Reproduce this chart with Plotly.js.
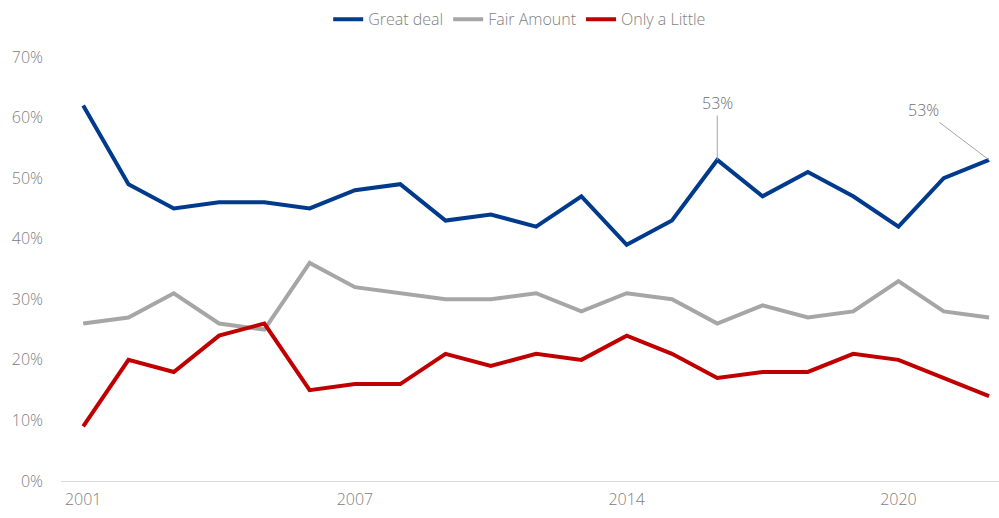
<!DOCTYPE html>
<html>
<head>
<meta charset="utf-8">
<script src="https://cdn.plot.ly/plotly-3.0.1.min.js"></script>
<style>html,body{margin:0;padding:0;background:#fff;}#chart{width:999px;height:518px;}</style>
</head>
<body>
<div id="chart"></div>
<script>
const years = ["2001","2002","2003","2004","2005","2006","2007","2008","2009","2010","2011","2013","2014","2015","2016","2017","2018","2019","2020","2021","2022"];
const tickYears = ["2001","2007","2014","2020"];
const greatDeal = [62,49,45,46,46,45,48,49,43,44,42,47,39,43,53,47,51,47,42,50,53];
const fairAmount = [26,27,31,26,25,36,32,31,30,30,31,28,31,30,26,29,27,28,33,28,27];
const onlyLittle = [9,20,18,24,26,15,16,16,21,19,21,20,24,21,17,18,18,21,20,17,14];
const seriesNames = ["Great deal","Fair Amount","Only a Little"];
const colors = ["#003A8C","#A6A6A6","#C00000"];
const labelIdx = [14, 20];

const FONT = "Open Sans, sans-serif";
const traces = [greatDeal, fairAmount, onlyLittle].map((vals, i) => ({
  type: "scatter", mode: "lines", x: years, y: vals, name: seriesNames[i],
  line: {color: colors[i], width: 4}, hoverinfo: "skip"
}));

const tf = {family: FONT, size: 16, color: "#808080", weight: 300};
const af = {family: FONT, size: 16, color: "#6E6E6E", weight: 300};
const layout = {
  width: 999, height: 518,
  margin: {l: 61, r: 0, t: 57, b: 37},
  paper_bgcolor: "#fff", plot_bgcolor: "#fff",
  font: tf,
  showlegend: true,
  legend: {orientation: "h", x: 0.489, xanchor: "center", y: 0.93, yanchor: "bottom", yref: "container",
           font: {family: FONT, size: 16, color: "#7F7F7F", weight: 300}, traceorder: "normal", itemwidth: 30},
  xaxis: {type: "category", range: [-0.49, 20.22], tickmode: "array", tickvals: tickYears, ticktext: tickYears,
          showgrid: false, showline: true, linecolor: "#D9D9D9", linewidth: 1, ticks: "", zeroline: false,
          ticklabelstandoff: 4, tickfont: tf},
  yaxis: {range: [0, 70], dtick: 10, ticksuffix: "%", showgrid: false, zeroline: false, showline: false,
          ticks: "", ticklabelstandoff: 17, tickfont: tf},
  annotations: [
    {xref: "x", yref: "y", x: labelIdx[0], y: greatDeal[labelIdx[0]], text: greatDeal[labelIdx[0]] + "%",
     showarrow: true, arrowhead: 0, arrowwidth: 1, arrowcolor: "#A6A6A6", ax: 0, ay: -57, font: af},
    {xref: "x", yref: "y", x: labelIdx[1], y: greatDeal[labelIdx[1]], text: greatDeal[labelIdx[1]] + "%",
     showarrow: true, arrowhead: 0, arrowwidth: 1, arrowcolor: "#A6A6A6", ax: -66, ay: -50, font: af}
  ]
};
Plotly.newPlot("chart", traces, layout, {staticPlot: true, displayModeBar: false});
</script>
</body>
</html>
